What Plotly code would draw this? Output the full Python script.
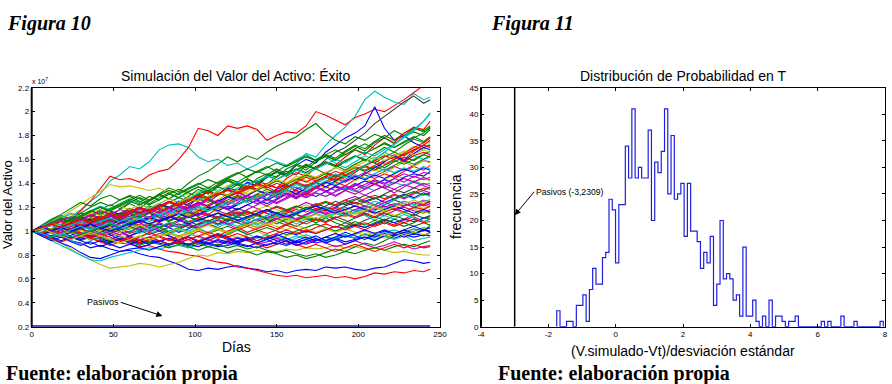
import plotly.graph_objects as go

# ---------------- data: left chart (values in units of 10^7) ----------------
days = list(range(0, 241, 6)) + [244]

path01 = [1.00,1.03,1.05,1.10,1.12,1.18,1.25,1.31,1.42,1.47,1.54,1.52,1.58,1.68,1.72,1.73,1.70,1.62,1.58,1.60,1.55,1.57,1.52,1.56,1.61,1.58,1.55,1.60,1.64,1.59,1.62,1.57,1.53,1.58,1.63,1.60,1.66,1.62,1.58,1.63,1.60,1.62]
path02 = [1.00,1.02,1.06,1.04,1.10,1.17,1.25,1.36,1.46,1.43,1.44,1.41,1.47,1.50,1.52,1.60,1.70,1.86,1.84,1.80,1.88,1.86,1.88,1.85,1.76,1.80,1.83,1.82,1.88,2.00,1.97,1.93,1.89,1.95,1.98,2.02,2.00,2.05,2.10,2.16,2.22,2.25]
path03 = [1.00,0.98,1.02,1.05,1.03,1.08,1.06,1.10,1.13,1.11,1.16,1.14,1.19,1.22,1.20,1.25,1.23,1.28,1.26,1.31,1.30,1.36,1.40,1.38,1.45,1.50,1.48,1.56,1.65,1.62,1.72,1.80,1.87,1.96,2.10,2.17,2.12,2.08,2.06,2.15,2.10,2.12]
path04 = [1.00,1.03,0.99,1.04,1.08,1.05,1.10,1.07,1.12,1.15,1.12,1.18,1.16,1.22,1.19,1.25,1.21,1.28,1.33,1.30,1.36,1.34,1.41,1.38,1.45,1.50,1.47,1.55,1.60,1.57,1.66,1.72,1.78,1.82,1.88,2.04,1.86,1.76,1.80,1.74,1.70,1.72]
path05 = [1.00,0.97,1.01,0.98,1.03,1.06,1.02,1.07,1.10,1.06,1.12,1.15,1.11,1.17,1.20,1.16,1.23,1.27,1.24,1.30,1.35,1.31,1.38,1.42,1.39,1.46,1.50,1.47,1.55,1.52,1.60,1.66,1.70,1.76,1.82,1.90,1.96,2.02,2.08,2.13,2.07,2.10]
path06 = [1.00,1.04,1.08,1.05,1.11,1.15,1.12,1.18,1.22,1.19,1.24,1.28,1.25,1.31,1.36,1.33,1.40,1.46,1.50,1.56,1.62,1.58,1.63,1.60,1.66,1.71,1.75,1.79,1.85,1.90,1.82,1.76,1.73,1.79,1.76,1.81,1.78,1.84,1.80,1.86,1.83,1.86]
path07 = [1.00,0.98,0.95,0.96,0.92,0.90,0.86,0.88,0.85,0.83,0.84,0.81,0.79,0.78,0.75,0.72,0.68,0.67,0.69,0.68,0.70,0.71,0.69,0.68,0.66,0.67,0.65,0.67,0.68,0.67,0.70,0.69,0.70,0.68,0.67,0.69,0.70,0.73,0.76,0.75,0.73,0.74]
path08 = [1.00,0.97,0.99,0.95,0.96,0.93,0.95,0.91,0.92,0.90,0.89,0.87,0.88,0.85,0.83,0.82,0.80,0.79,0.76,0.74,0.73,0.70,0.69,0.67,0.65,0.63,0.62,0.63,0.61,0.62,0.63,0.61,0.62,0.60,0.62,0.65,0.64,0.66,0.65,0.67,0.66,0.68]
path09 = [1.00,0.97,0.93,0.90,0.85,0.80,0.76,0.72,0.69,0.70,0.71,0.73,0.72,0.70,0.72,0.74,0.77,0.80,0.79,0.82,0.81,0.83,0.82,0.84,0.82,0.83,0.85,0.84,0.86,0.85,0.86,0.88,0.86,0.87,0.85,0.86,0.84,0.82,0.83,0.81,0.80,0.80]
path10 = [1.00,0.96,0.92,0.88,0.84,0.80,0.76,0.75,0.78,0.80,0.82,0.84,0.86,0.85,0.87,0.88,0.86,0.89,0.90,0.88,0.92,0.91,0.93,0.90,0.94,0.95,0.93,0.96,0.94,0.92,0.93,0.95,0.97,0.94,0.98,0.96,0.99,1.01,0.98,1.00,1.03,1.02]
path11 = [1.00,0.97,0.94,0.90,0.87,0.82,0.78,0.77,0.80,0.83,0.85,0.86,0.84,0.87,0.89,0.90,0.88,0.91,0.89,0.87,0.88,0.90,0.88,0.86,0.89,0.90,0.88,0.91,0.93,0.90,0.92,0.94,0.91,0.93,0.95,0.93,0.96,0.94,0.97,0.95,0.97,0.96]
path12 = [1.00,1.04,1.08,1.12,1.17,1.22,1.28,1.33,1.39,1.37,1.38,1.36,1.34,1.36,1.32,1.35,1.30,1.33,1.37,1.34,1.38,1.41,1.37,1.35,1.39,1.43,1.40,1.46,1.42,1.38,1.41,1.45,1.42,1.47,1.44,1.40,1.43,1.47,1.44,1.41,1.44,1.42]
path13 = [1.00,1.02,0.99,1.03,1.06,1.04,1.09,1.12,1.10,1.15,1.19,1.16,1.21,1.18,1.24,1.28,1.25,1.31,1.34,1.30,1.36,1.40,1.37,1.44,1.48,1.45,1.52,1.56,1.53,1.60,1.64,1.61,1.67,1.72,1.69,1.75,1.80,1.76,1.82,1.86,1.84,1.88]
path14 = [1.00,0.98,1.01,0.97,0.99,1.02,0.98,1.03,1.06,1.02,1.08,1.05,1.11,1.09,1.14,1.18,1.15,1.21,1.26,1.22,1.28,1.33,1.29,1.35,1.40,1.36,1.44,1.49,1.46,1.53,1.58,1.55,1.62,1.68,1.64,1.72,1.78,1.74,1.82,1.87,1.85,1.92]
path15 = [1.00,1.03,1.06,1.02,1.07,1.10,1.06,1.11,1.08,1.13,1.16,1.12,1.17,1.14,1.19,1.22,1.18,1.23,1.20,1.26,1.23,1.28,1.25,1.30,1.27,1.32,1.29,1.34,1.31,1.36,1.33,1.38,1.35,1.40,1.37,1.42,1.39,1.44,1.41,1.46,1.43,1.45]
path16 = [1.00,1.02,1.05,1.08,1.04,1.01,1.05,1.09,1.13,1.10,1.06,1.09,1.12,1.16,1.13,1.10,1.14,1.18,1.21,1.17,1.14,1.18,1.22,1.19,1.15,1.12,1.16,1.20,1.24,1.21,1.18,1.22,1.26,1.29,1.25,1.22,1.26,1.30,1.27,1.31,1.34,1.32]
path17 = [1.00,1.04,1.01,0.98,1.02,1.07,1.11,1.08,1.05,1.09,1.14,1.18,1.15,1.20,1.17,1.22,1.27,1.24,1.21,1.26,1.31,1.28,1.33,1.38,1.35,1.31,1.36,1.42,1.46,1.43,1.49,1.45,1.51,1.56,1.53,1.59,1.64,1.60,1.66,1.71,1.68,1.75]
path18 = [1.00,1.05,1.10,1.14,1.19,1.24,1.21,1.27,1.30,1.26,1.29,1.25,1.22,1.26,1.31,1.28,1.33,1.37,1.34,1.39,1.44,1.41,1.46,1.50,1.47,1.43,1.48,1.52,1.49,1.54,1.58,1.55,1.51,1.56,1.60,1.57,1.53,1.58,1.62,1.59,1.64,1.62]
path19 = [1.00,0.97,0.94,0.98,1.01,0.97,0.95,0.99,1.03,1.00,0.96,0.99,1.02,1.06,1.03,0.99,1.02,1.06,1.09,1.05,1.08,1.12,1.09,1.13,1.17,1.14,1.10,1.14,1.18,1.21,1.17,1.20,1.24,1.21,1.25,1.28,1.24,1.27,1.31,1.28,1.32,1.30]
path20 = [1.00,1.03,1.00,0.96,0.99,1.02,1.05,1.01,0.98,1.02,1.06,1.03,1.07,1.04,1.00,1.03,1.07,1.10,1.06,1.09,1.05,1.08,1.12,1.09,1.13,1.16,1.12,1.09,1.13,1.17,1.14,1.11,1.15,1.18,1.14,1.17,1.21,1.18,1.15,1.19,1.22,1.20]
path21 = [1.00,0.98,1.01,1.04,1.02,0.99,0.96,0.99,1.02,0.99,0.95,0.92,0.95,0.98,0.96,0.93,0.96,1.00,0.97,0.94,0.97,1.01,1.04,1.01,0.98,1.01,1.05,1.02,0.99,1.03,1.06,1.03,1.07,1.04,1.01,1.05,1.08,1.05,1.09,1.12,1.08,1.10]
path22 = [1.00,0.97,0.95,0.98,0.95,0.92,0.95,0.93,0.90,0.93,0.91,0.88,0.91,0.89,0.86,0.89,0.87,0.84,0.87,0.85,0.82,0.85,0.83,0.80,0.83,0.81,0.78,0.80,0.77,0.79,0.82,0.85,0.83,0.87,0.90,0.88,0.92,0.96,0.99,1.02,1.00,1.05]
path23 = [1.00,1.02,1.05,1.03,1.07,1.05,1.02,1.06,1.09,1.07,1.04,1.08,1.06,1.10,1.13,1.10,1.07,1.11,1.14,1.12,1.09,1.12,1.16,1.13,1.10,1.13,1.17,1.14,1.11,1.15,1.18,1.15,1.12,1.16,1.19,1.16,1.13,1.17,1.20,1.17,1.15,1.18]
path24 = [1.00,1.03,1.06,1.09,1.06,1.10,1.13,1.10,1.07,1.04,1.07,1.03,1.00,1.03,0.99,0.96,0.99,0.95,0.98,1.01,0.98,0.94,0.97,1.00,0.96,0.93,0.96,0.99,0.95,0.92,0.95,0.98,0.95,0.97,1.00,0.97,0.94,0.97,1.01,0.98,1.02,1.00]
path25 = [1.00,0.98,1.02,1.05,1.02,1.06,1.09,1.06,1.03,1.07,1.10,1.14,1.11,1.08,1.12,1.09,1.13,1.17,1.14,1.11,1.15,1.19,1.16,1.13,1.17,1.21,1.18,1.15,1.19,1.23,1.20,1.17,1.21,1.24,1.21,1.18,1.22,1.26,1.23,1.20,1.23,1.25]
path26 = [1.00,0.98,0.96,0.99,0.96,0.93,0.96,0.94,0.91,0.94,0.92,0.89,0.92,0.90,0.88,0.91,0.89,0.87,0.90,0.88,0.91,0.89,0.87,0.90,0.88,0.91,0.94,0.91,0.89,0.92,0.95,0.93,0.96,0.94,0.97,0.95,0.98,0.96,0.99,0.97,1.01,1.00]
path27 = [1.00,1.04,1.08,1.05,1.10,1.13,1.17,1.20,1.16,1.13,1.17,1.14,1.10,1.13,1.09,1.12,1.08,1.05,1.09,1.06,1.10,1.07,1.04,1.08,1.11,1.08,1.05,1.09,1.12,1.09,1.13,1.10,1.07,1.11,1.14,1.11,1.15,1.12,1.16,1.13,1.17,1.15]
path28 = [1.00,1.02,0.99,1.03,1.00,1.04,1.08,1.05,1.09,1.06,1.10,1.14,1.11,1.15,1.19,1.16,1.20,1.17,1.22,1.26,1.23,1.27,1.24,1.29,1.33,1.30,1.34,1.31,1.36,1.40,1.37,1.41,1.38,1.43,1.47,1.44,1.48,1.45,1.50,1.54,1.51,1.55]
path29 = [1.00,0.96,0.93,0.95,0.92,0.89,0.92,0.95,0.98,0.95,0.92,0.95,0.98,1.01,0.98,0.95,0.98,0.95,0.92,0.95,0.98,1.01,0.98,0.94,0.97,0.94,0.91,0.94,0.97,0.94,0.91,0.94,0.97,0.94,0.97,0.93,0.96,0.93,0.96,0.92,0.94,0.95]
path30 = [1.00,1.02,0.99,1.01,0.98,0.95,0.97,0.94,0.96,0.99,0.96,0.93,0.95,0.92,0.94,0.91,0.93,0.96,0.93,0.90,0.92,0.95,0.92,0.89,0.91,0.94,0.91,0.88,0.90,0.93,0.90,0.87,0.89,0.92,0.89,0.86,0.88,0.91,0.88,0.85,0.87,0.88]
path31 = [1.00,1.03,1.07,1.11,1.08,1.13,1.17,1.14,1.19,1.23,1.27,1.24,1.29,1.26,1.31,1.35,1.32,1.28,1.33,1.37,1.34,1.39,1.43,1.40,1.45,1.49,1.46,1.51,1.55,1.52,1.57,1.54,1.59,1.63,1.60,1.57,1.62,1.66,1.63,1.68,1.72,1.70]
path32 = [1.00,0.98,1.01,0.99,1.02,1.05,1.02,1.06,1.03,1.07,1.10,1.07,1.11,1.14,1.11,1.15,1.12,1.16,1.20,1.17,1.21,1.18,1.22,1.26,1.23,1.27,1.31,1.28,1.32,1.29,1.33,1.37,1.34,1.38,1.42,1.39,1.43,1.40,1.45,1.48,1.46,1.50]
path33 = [1.00,1.04,1.07,1.10,1.14,1.11,1.15,1.18,1.15,1.12,1.16,1.13,1.17,1.14,1.18,1.15,1.12,1.16,1.19,1.16,1.13,1.17,1.14,1.18,1.21,1.18,1.15,1.19,1.22,1.19,1.16,1.20,1.17,1.21,1.24,1.21,1.18,1.22,1.25,1.22,1.19,1.22]
path34 = [1.00,0.97,0.99,0.96,0.93,0.96,0.99,0.96,0.99,1.02,0.99,1.03,1.06,1.03,1.07,1.04,1.08,1.11,1.08,1.12,1.15,1.12,1.16,1.13,1.17,1.20,1.17,1.21,1.18,1.22,1.25,1.22,1.26,1.23,1.27,1.30,1.27,1.31,1.28,1.32,1.36,1.35]
path35 = [1.00,0.99,1.02,1.05,1.08,1.05,1.02,1.05,1.01,1.04,1.07,1.04,1.00,1.03,0.99,1.02,1.05,1.02,0.98,1.01,1.04,1.01,0.97,1.00,1.03,1.00,0.97,1.00,1.03,1.06,1.03,1.00,1.03,1.06,1.03,1.07,1.10,1.07,1.04,1.07,1.11,1.10]
path36 = [1.00,1.03,1.06,1.03,1.07,1.04,1.08,1.11,1.08,1.12,1.09,1.13,1.16,1.13,1.17,1.14,1.18,1.21,1.18,1.22,1.19,1.23,1.26,1.23,1.27,1.24,1.28,1.31,1.28,1.32,1.29,1.33,1.36,1.33,1.37,1.34,1.38,1.41,1.38,1.42,1.39,1.40]
path37 = [1.00,1.02,1.05,1.09,1.06,1.10,1.14,1.11,1.08,1.12,1.16,1.20,1.17,1.21,1.25,1.22,1.19,1.23,1.27,1.24,1.28,1.32,1.29,1.26,1.30,1.34,1.31,1.35,1.39,1.36,1.40,1.44,1.41,1.45,1.49,1.46,1.50,1.54,1.51,1.55,1.59,1.58]
path38 = [1.00,0.98,0.95,0.97,0.94,0.96,0.93,0.95,0.92,0.94,0.91,0.93,0.90,0.92,0.89,0.91,0.88,0.90,0.87,0.89,0.86,0.88,0.85,0.87,0.84,0.82,0.84,0.81,0.79,0.81,0.78,0.80,0.83,0.81,0.84,0.86,0.84,0.87,0.89,0.87,0.90,0.92]
path39 = [1.00,1.02,0.99,0.96,0.99,1.02,0.99,0.96,0.93,0.96,0.93,0.90,0.93,0.91,0.94,0.91,0.89,0.92,0.90,0.93,0.91,0.94,0.92,0.95,0.93,0.96,0.99,0.97,1.00,0.98,1.01,1.04,1.02,1.05,1.03,1.06,1.09,1.07,1.10,1.08,1.11,1.12]
path40 = [1.00,1.03,1.01,1.04,1.07,1.05,1.08,1.05,1.09,1.12,1.10,1.13,1.11,1.08,1.11,1.14,1.12,1.15,1.13,1.10,1.13,1.16,1.14,1.17,1.15,1.12,1.15,1.18,1.16,1.19,1.17,1.20,1.18,1.21,1.19,1.22,1.20,1.23,1.21,1.24,1.22,1.25]
path41 = [1.00,1.01,1.05,1.03,1.08,1.06,1.11,1.16,1.13,1.18,1.23,1.19,1.25,1.30,1.27,1.24,1.29,1.35,1.31,1.37,1.42,1.38,1.44,1.40,1.47,1.52,1.48,1.55,1.51,1.58,1.63,1.59,1.66,1.71,1.67,1.74,1.78,1.73,1.79,1.83,1.80,1.85]
path42 = [1.00,0.97,1.00,1.04,1.09,1.05,1.01,1.06,1.10,1.14,1.10,1.15,1.11,1.07,1.12,1.17,1.22,1.18,1.14,1.19,1.24,1.29,1.25,1.31,1.27,1.33,1.38,1.34,1.30,1.36,1.41,1.47,1.43,1.49,1.55,1.51,1.58,1.64,1.60,1.67,1.72,1.70]
path43 = [1.00,1.03,0.99,1.02,0.98,0.94,0.97,1.01,0.97,0.93,0.96,1.00,1.04,1.00,0.96,0.92,0.95,0.91,0.94,0.98,0.95,0.91,0.94,0.90,0.93,0.97,0.94,0.90,0.93,0.96,0.92,0.95,0.99,0.96,0.93,0.97,1.00,0.97,1.01,0.98,0.96,0.99]
path44 = [1.00,1.04,1.01,1.06,1.10,1.07,1.03,1.08,1.13,1.09,1.14,1.19,1.15,1.11,1.16,1.21,1.17,1.22,1.27,1.23,1.19,1.24,1.29,1.25,1.21,1.26,1.31,1.27,1.32,1.37,1.33,1.29,1.34,1.39,1.35,1.40,1.36,1.32,1.37,1.41,1.38,1.36]
path45 = [1.00,0.98,1.02,1.06,1.03,1.07,1.04,1.00,1.04,1.08,1.12,1.09,1.05,1.09,1.13,1.17,1.13,1.18,1.22,1.18,1.23,1.27,1.24,1.29,1.33,1.29,1.34,1.30,1.35,1.40,1.36,1.41,1.46,1.42,1.47,1.52,1.48,1.53,1.58,1.54,1.59,1.57]
path46 = [1.00,1.02,0.98,0.95,0.99,0.96,1.00,1.03,0.99,1.02,1.06,1.02,0.99,1.03,1.07,1.03,1.00,1.04,1.08,1.05,1.09,1.13,1.09,1.06,1.10,1.14,1.11,1.15,1.19,1.15,1.12,1.16,1.20,1.17,1.21,1.25,1.22,1.26,1.30,1.27,1.31,1.29]
path47 = [1.00,0.97,0.94,0.97,1.00,0.96,0.99,1.03,0.99,1.02,0.98,1.01,1.05,1.01,0.98,1.02,1.05,1.02,1.06,1.03,0.99,1.03,1.06,1.03,1.07,1.11,1.07,1.04,1.08,1.11,1.08,1.12,1.09,1.05,1.09,1.12,1.09,1.13,1.10,1.14,1.11,1.13]
path48 = [1.00,1.04,1.09,1.13,1.10,1.15,1.20,1.24,1.21,1.26,1.30,1.27,1.23,1.28,1.32,1.28,1.33,1.37,1.33,1.38,1.43,1.39,1.35,1.40,1.45,1.50,1.46,1.51,1.56,1.52,1.48,1.53,1.58,1.63,1.59,1.65,1.70,1.66,1.72,1.77,1.74,1.78]
path49 = [1.00,1.02,1.06,1.02,0.98,1.02,0.99,0.95,0.99,0.96,0.92,0.95,0.99,0.95,0.92,0.96,0.93,0.89,0.92,0.96,0.93,0.90,0.93,0.89,0.86,0.89,0.92,0.89,0.86,0.89,0.86,0.83,0.86,0.89,0.86,0.83,0.86,0.89,0.86,0.89,0.86,0.87]
path50 = [1.00,1.03,1.07,1.04,1.08,1.12,1.09,1.13,1.17,1.14,1.18,1.15,1.19,1.23,1.20,1.16,1.20,1.24,1.21,1.25,1.29,1.26,1.30,1.34,1.31,1.35,1.39,1.36,1.33,1.37,1.41,1.38,1.42,1.46,1.43,1.47,1.44,1.48,1.52,1.49,1.53,1.51]
path51 = [1.00,0.98,0.95,0.99,1.02,0.98,1.01,1.05,1.02,1.06,1.10,1.07,1.03,1.07,1.04,1.08,1.12,1.08,1.05,1.09,1.06,1.02,1.06,1.10,1.06,1.10,1.14,1.10,1.14,1.18,1.15,1.19,1.15,1.12,1.16,1.20,1.24,1.21,1.25,1.22,1.26,1.24]
path52 = [1.00,1.02,0.99,1.03,1.07,1.11,1.08,1.12,1.09,1.13,1.17,1.14,1.18,1.22,1.19,1.23,1.27,1.31,1.28,1.32,1.29,1.33,1.37,1.34,1.38,1.42,1.39,1.43,1.47,1.44,1.48,1.45,1.49,1.53,1.50,1.54,1.51,1.55,1.59,1.56,1.60,1.63]
path53 = [1.00,1.04,1.08,1.05,1.09,1.06,1.02,1.06,1.03,0.99,1.03,1.00,1.04,1.01,0.97,1.01,0.98,1.02,0.99,1.03,1.07,1.04,1.08,1.05,1.09,1.13,1.10,1.06,1.10,1.07,1.11,1.15,1.12,1.16,1.13,1.09,1.13,1.10,1.14,1.11,1.08,1.10]
path54 = [1.00,1.03,1.00,1.04,1.08,1.05,1.09,1.13,1.10,1.14,1.18,1.15,1.19,1.16,1.20,1.24,1.28,1.25,1.29,1.33,1.30,1.34,1.38,1.35,1.39,1.36,1.40,1.44,1.41,1.45,1.49,1.46,1.50,1.54,1.51,1.55,1.59,1.62,1.58,1.63,1.66,1.64]
path55 = [1.00,0.97,0.99,1.02,0.98,1.01,0.97,1.00,1.03,0.99,1.02,1.05,1.01,1.04,1.07,1.03,1.06,1.09,1.05,1.08,1.11,1.07,1.10,1.13,1.09,1.12,1.08,1.11,1.14,1.10,1.13,1.16,1.12,1.15,1.18,1.14,1.17,1.13,1.16,1.19,1.15,1.17]
path56 = [1.00,0.96,0.92,0.95,0.91,0.88,0.91,0.87,0.90,0.93,0.90,0.86,0.89,0.92,0.89,0.92,0.95,0.91,0.94,0.97,0.94,0.90,0.93,0.96,0.93,0.89,0.92,0.88,0.91,0.94,0.90,0.93,0.89,0.92,0.95,0.92,0.96,0.99,0.95,0.98,1.01,0.99]
path57 = [1.00,1.03,1.06,1.10,1.07,1.03,1.07,1.11,1.15,1.11,1.07,1.11,1.15,1.12,1.08,1.12,1.16,1.12,1.08,1.12,1.09,1.13,1.17,1.13,1.10,1.06,1.10,1.14,1.11,1.07,1.11,1.07,1.04,1.08,1.05,1.09,1.06,1.10,1.07,1.04,1.07,1.05]
path58 = [1.00,1.02,1.05,1.01,1.04,1.08,1.05,1.09,1.06,1.10,1.14,1.11,1.15,1.19,1.16,1.20,1.17,1.13,1.17,1.21,1.18,1.22,1.26,1.23,1.27,1.24,1.28,1.32,1.29,1.33,1.37,1.34,1.38,1.35,1.39,1.43,1.40,1.44,1.48,1.45,1.49,1.48]
path59 = [1.00,1.03,1.07,1.11,1.15,1.12,1.17,1.21,1.18,1.22,1.26,1.23,1.19,1.23,1.27,1.31,1.27,1.32,1.36,1.33,1.37,1.41,1.38,1.42,1.46,1.43,1.47,1.51,1.48,1.52,1.56,1.60,1.57,1.62,1.66,1.63,1.68,1.73,1.78,1.84,1.92,1.99]
path60 = [1.00,1.03,1.00,0.97,1.00,0.96,0.93,0.96,0.99,0.96,0.93,0.96,0.92,0.95,0.98,0.95,0.98,1.01,0.98,1.02,0.99,1.03,1.06,1.03,1.07,1.04,1.01,1.05,1.02,0.99,1.02,0.99,1.02,0.99,0.96,0.99,0.96,0.99,0.96,0.99,0.97,0.98]
path61 = [1.00,1.04,1.01,1.05,1.09,1.13,1.17,1.14,1.18,1.22,1.26,1.30,1.26,1.31,1.27,1.32,1.36,1.40,1.36,1.41,1.45,1.49,1.45,1.50,1.54,1.50,1.55,1.59,1.63,1.59,1.64,1.68,1.64,1.69,1.73,1.69,1.74,1.70,1.75,1.79,1.75,1.79]
path62 = [1.00,0.97,0.94,0.91,0.94,0.97,0.94,0.91,0.88,0.91,0.94,0.90,0.93,0.96,0.93,0.90,0.93,0.96,0.99,0.96,1.00,1.03,0.99,1.02,1.05,1.02,1.06,1.09,1.06,1.10,1.07,1.11,1.14,1.11,1.15,1.12,1.16,1.19,1.16,1.20,1.18,1.21]
path63 = [1.00,1.04,1.00,1.03,1.07,1.03,1.06,1.02,1.05,1.09,1.05,1.08,1.12,1.08,1.11,1.15,1.11,1.14,1.18,1.22,1.18,1.22,1.26,1.30,1.26,1.30,1.35,1.31,1.36,1.41,1.37,1.42,1.47,1.43,1.48,1.53,1.58,1.63,1.59,1.65,1.70,1.68]
path64 = [1.00,1.02,0.99,0.96,0.99,1.02,1.05,1.02,0.98,1.01,1.04,1.01,0.97,1.00,1.03,1.06,1.03,1.06,1.09,1.06,1.10,1.07,1.11,1.14,1.11,1.15,1.12,1.16,1.20,1.17,1.21,1.25,1.22,1.26,1.30,1.27,1.31,1.35,1.32,1.36,1.34,1.37]
path65 = [1.00,0.97,1.00,0.97,0.94,0.97,0.94,0.97,1.00,0.97,1.00,1.03,1.00,1.03,1.06,1.03,1.06,1.03,1.06,1.10,1.06,1.09,1.06,1.10,1.13,1.10,1.13,1.10,1.14,1.17,1.14,1.17,1.14,1.18,1.21,1.18,1.21,1.18,1.21,1.24,1.21,1.23]
path66 = [1.00,1.03,1.06,1.03,1.00,1.03,1.07,1.10,1.07,1.11,1.15,1.12,1.16,1.20,1.24,1.21,1.25,1.29,1.26,1.22,1.26,1.30,1.27,1.31,1.35,1.32,1.36,1.40,1.37,1.41,1.45,1.42,1.46,1.50,1.54,1.51,1.55,1.59,1.56,1.60,1.64,1.67]
path67 = [1.00,0.98,1.01,0.98,0.95,0.98,1.01,0.98,1.01,1.04,1.01,0.98,1.01,1.04,1.07,1.04,1.07,1.10,1.07,1.10,1.13,1.10,1.07,1.10,1.13,1.16,1.13,1.16,1.19,1.16,1.19,1.16,1.13,1.16,1.19,1.22,1.19,1.22,1.25,1.22,1.25,1.26]
path68 = [1.00,1.02,1.05,1.08,1.05,1.09,1.13,1.10,1.14,1.11,1.15,1.19,1.16,1.20,1.24,1.21,1.25,1.29,1.33,1.30,1.34,1.31,1.35,1.39,1.36,1.40,1.37,1.41,1.45,1.42,1.46,1.50,1.47,1.51,1.55,1.59,1.63,1.60,1.65,1.70,1.74,1.78]
path69 = [1.00,0.98,0.95,0.92,0.95,0.92,0.89,0.92,0.89,0.86,0.89,0.92,0.89,0.92,0.89,0.92,0.95,0.92,0.89,0.92,0.89,0.92,0.95,0.92,0.95,0.92,0.89,0.92,0.95,0.92,0.95,0.98,0.95,0.98,1.01,0.98,1.01,0.98,1.01,1.04,1.01,1.03]
path70 = [1.00,1.03,1.07,1.04,1.08,1.12,1.16,1.13,1.17,1.21,1.18,1.22,1.19,1.23,1.27,1.24,1.28,1.25,1.29,1.33,1.30,1.34,1.31,1.35,1.39,1.43,1.40,1.44,1.48,1.45,1.49,1.53,1.50,1.54,1.58,1.62,1.59,1.63,1.67,1.64,1.68,1.66]
path71 = [1.00,0.97,1.00,1.03,1.00,0.97,1.00,1.03,1.06,1.03,1.06,1.09,1.06,1.03,1.06,1.09,1.12,1.09,1.12,1.15,1.12,1.15,1.12,1.15,1.18,1.15,1.18,1.21,1.18,1.21,1.24,1.21,1.24,1.27,1.24,1.27,1.30,1.27,1.30,1.33,1.30,1.32]
path72 = [1.00,1.03,1.00,1.04,1.07,1.04,1.08,1.05,1.09,1.13,1.10,1.14,1.18,1.15,1.19,1.16,1.20,1.24,1.21,1.25,1.22,1.26,1.30,1.27,1.31,1.28,1.32,1.29,1.33,1.37,1.34,1.30,1.34,1.31,1.35,1.39,1.36,1.40,1.44,1.41,1.45,1.43]
path73 = [1.00,0.98,1.01,0.98,1.01,0.98,0.95,0.98,0.95,0.92,0.95,0.92,0.95,0.92,0.89,0.92,0.95,0.92,0.95,0.98,0.95,0.98,0.95,0.92,0.95,0.98,1.01,0.98,1.01,0.98,1.01,1.04,1.01,1.04,1.07,1.04,1.07,1.04,1.07,1.10,1.07,1.08]
path74 = [1.00,1.02,1.05,1.02,1.05,1.08,1.05,1.08,1.11,1.08,1.11,1.14,1.11,1.14,1.17,1.14,1.17,1.20,1.17,1.20,1.23,1.27,1.24,1.28,1.32,1.29,1.33,1.37,1.34,1.38,1.42,1.39,1.43,1.47,1.44,1.48,1.52,1.49,1.53,1.50,1.54,1.52]
path75 = [1.00,1.03,1.07,1.11,1.08,1.12,1.16,1.20,1.17,1.21,1.25,1.22,1.26,1.30,1.34,1.31,1.35,1.39,1.43,1.40,1.44,1.48,1.52,1.49,1.53,1.57,1.54,1.58,1.62,1.59,1.63,1.60,1.64,1.68,1.65,1.69,1.73,1.70,1.74,1.78,1.82,1.87]
path76 = [1.00,0.97,1.00,1.03,1.00,1.03,1.06,1.03,1.00,1.03,1.06,1.09,1.06,1.09,1.12,1.09,1.06,1.09,1.12,1.15,1.12,1.09,1.12,1.15,1.18,1.15,1.12,1.15,1.18,1.21,1.18,1.15,1.18,1.21,1.18,1.15,1.18,1.21,1.18,1.15,1.18,1.16]
path77 = [1.00,1.02,0.99,0.96,0.93,0.96,0.99,0.96,0.93,0.90,0.93,0.96,0.93,0.96,0.99,1.02,0.99,1.02,1.05,1.02,0.99,1.02,1.05,1.08,1.05,1.08,1.11,1.08,1.11,1.14,1.11,1.14,1.17,1.14,1.17,1.20,1.17,1.20,1.23,1.26,1.23,1.27]
path78 = [1.00,1.03,1.06,1.09,1.12,1.09,1.13,1.17,1.14,1.18,1.15,1.19,1.16,1.12,1.16,1.20,1.17,1.13,1.17,1.21,1.18,1.14,1.18,1.22,1.26,1.23,1.27,1.31,1.28,1.32,1.29,1.33,1.37,1.34,1.30,1.34,1.38,1.35,1.39,1.36,1.40,1.38]
path79 = [1.00,1.03,1.06,1.03,1.07,1.10,1.07,1.11,1.15,1.12,1.16,1.20,1.17,1.21,1.25,1.22,1.26,1.30,1.27,1.31,1.35,1.32,1.36,1.40,1.37,1.33,1.37,1.41,1.38,1.42,1.46,1.43,1.47,1.51,1.55,1.59,1.56,1.60,1.64,1.68,1.72,1.76]
path80 = [1.00,0.98,0.95,0.98,1.01,1.04,1.01,1.04,1.07,1.04,1.08,1.11,1.08,1.12,1.15,1.19,1.16,1.20,1.17,1.21,1.25,1.22,1.26,1.30,1.27,1.31,1.35,1.39,1.36,1.40,1.44,1.48,1.45,1.50,1.55,1.60,1.66,1.72,1.79,1.85,1.92,1.98]

paths = [path01, path02, path03, path04, path05, path06, path07, path08, path09, path10,
         path11, path12, path13, path14, path15, path16, path17, path18, path19, path20,
         path21, path22, path23, path24, path25, path26, path27, path28, path29, path30,
         path31, path32, path33, path34, path35, path36, path37, path38, path39, path40,
         path41, path42, path43, path44, path45, path46, path47, path48, path49, path50,
         path51, path52, path53, path54, path55, path56, path57, path58, path59, path60,
         path61, path62, path63, path64, path65, path66, path67, path68, path69, path70,
         path71, path72, path73, path74, path75, path76, path77, path78, path79, path80]

pasivos_level = 0.2          # liabilities, in units of 10^7
pasivos_days = [0, 244]

left_xticks = [0, 50, 100, 150, 200, 250]
left_yticks = [0.2, 0.4, 0.6, 0.8, 1.0, 1.2, 1.4, 1.6, 1.8, 2.0, 2.2]
left_yticklabels = ["0.2", "0.4", "0.6", "0.8", "1", "1.2", "1.4", "1.6", "1.8", "2", "2.2"]

# ---------------- data: right chart ----------------
hist_counts = [3,0,0,1,1,0,4,4,6,1,7,11,8,8,13,14,24,22,12,23,
               23,34,28,41,28,30,28,28,37,20,31,29,33,41,25,36,24,25,27,17,
               27,18,18,16,11,14,12,17,4,8,20,9,10,9,5,6,2,15,2,2,
               5,1,0,2,0,5,0,2,2,1,0,1,1,2,0,0,0,0,0,0,
               0,1,0,1,0,0,0,2,0,0,0,1,0,0,0,0,0,0,0,1]
hist_min = -1.75
hist_max = 7.95
pasivos_z = -3.0
right_xticks = [-4, -2, 0, 2, 4, 6, 8]
right_xticklabels = ["-4", "-2", "0", "2", "4", "6", "8"]
right_yticks = [0, 5, 10, 15, 20, 25, 30, 35, 40, 45]

# ---------------- styles ----------------
MATLAB = {"b": "#0000ff", "g": "#008000", "r": "#ff0000", "c": "#00bfbf",
          "m": "#bf00bf", "y": "#bfbf00", "k": "#404040"}
path_styles = ["c", "r", "c", "b", "k", "g", "b", "r", "y", "c",
               "b", "y", "g", "r", "m", "m", "y", "g", "b", "c",
               "r", "g", "m", "y", "k", "b", "g", "r", "c", "m",
               "g", "b", "y", "r", "g", "c", "m", "g", "b", "r",
               "g", "r", "b", "m", "y", "c", "k", "g", "r", "b",
               "m", "g", "c", "r", "y", "b", "g", "m", "c", "y",
               "g", "r", "b", "k", "m", "g", "c", "r", "b", "y",
               "g", "m", "r", "c", "g", "b", "y", "m", "r", "c"]

W, H = 892, 384
FONT = "Liberation Sans"
SERIF = "Liberation Serif"

def px(x):
    return x / W

def py(y):
    return (H - y) / H

fig = go.Figure()

for vals, st in zip(paths, path_styles):
    fig.add_trace(go.Scatter(x=days, y=vals, mode="lines",
                             line=dict(color=MATLAB[st], width=1.1),
                             xaxis="x", yaxis="y", hoverinfo="skip"))

fig.add_trace(go.Scatter(x=pasivos_days, y=[pasivos_level] * len(pasivos_days), mode="lines",
                         line=dict(color="#1c1c8c", width=3), xaxis="x", yaxis="y"))

# histogram outline
nb = len(hist_counts)
w = (hist_max - hist_min) / nb
edges = [hist_min + i * w for i in range(nb + 1)]
hx = [edges[0]] + edges[:nb] + [edges[nb]]
hy = [0] + hist_counts + [0]
fig.add_trace(go.Scatter(x=hx, y=hy, mode="lines", line=dict(color="#2020e0", width=1.2, shape="hv"),
                         xaxis="x2", yaxis="y2"))
fig.add_trace(go.Scatter(x=[pasivos_z, pasivos_z], y=[0, 45], mode="lines",
                         line=dict(color="black", width=1.5), xaxis="x2", yaxis="y2"))

ydom = [py(326.7), py(87.7)]
axis_common = dict(showgrid=False, zeroline=False, showline=True, linecolor="black", linewidth=1,
                   mirror="ticks", ticks="inside", ticklen=3, tickcolor="black",
                   tickfont=dict(family=FONT, size=8, color="black"), automargin=False)

fig.update_layout(
    width=W, height=H, margin=dict(l=0, r=0, t=0, b=0),
    paper_bgcolor="white", plot_bgcolor="white", showlegend=False,
    xaxis=dict(domain=[px(31.7), px(440)], range=[0, 250], tickvals=left_xticks, anchor="y", **axis_common),
    yaxis=dict(domain=ydom, range=[0.2, 2.2], tickvals=left_yticks, ticktext=left_yticklabels,
               anchor="x", **axis_common),
    xaxis2=dict(domain=[px(481), px(885)], range=[-4, 8], tickvals=right_xticks,
                ticktext=right_xticklabels, anchor="y2", **axis_common),
    yaxis2=dict(domain=ydom, range=[0, 45], tickvals=right_yticks, anchor="x2", **axis_common),
)

# heavier left spines, as in the reference
fig.update_layout(shapes=[
    dict(type="line", xref="x domain", yref="y domain", x0=0, x1=0, y0=0, y1=1,
         line=dict(color="black", width=2)),
    dict(type="line", xref="x2 domain", yref="y2 domain", x0=0, x1=0, y0=0, y1=1,
         line=dict(color="black", width=2)),
])

ann = []
def text(x, y, s, size, family=FONT, angle=0, xanchor="center", yanchor="middle"):
    ann.append(dict(x=px(x), y=py(y), xref="paper", yref="paper", text=s, showarrow=False,
                    font=dict(family=family, size=size, color="black"), textangle=angle,
                    xanchor=xanchor, yanchor=yanchor))

text(5, 23, "<b><i>Figura 10</i></b>", 20, SERIF, xanchor="left")
text(489, 23, "<b><i>Figura 11</i></b>", 20, SERIF, xanchor="left")
text(4, 373, "<b>Fuente: elaboración propia</b>", 20, SERIF, xanchor="left")
text(496, 373, "<b>Fuente: elaboración propia</b>", 20, SERIF, xanchor="left")
text(236, 76, "Simulación del Valor del Activo: Éxito", 14)
text(683, 76, "Distribución de Probabilidad en T", 14)
text(30, 81, "x 10<sup>7</sup>", 7, xanchor="left")
text(7, 205, "Valor del Activo", 13, angle=-90)
text(236, 347, "Días", 14)
text(456, 207, "frecuencia", 14, angle=-90)
text(683, 351, "(V.simulado-Vt)/desviación estándar", 14)

# Pasivos labels with arrows (text box sits at the arrow tail)
ann.append(dict(x=80, y=0.29, ax=54.5, ay=0.404, xref="x", yref="y", axref="x", ayref="y",
                text="Pasivos", xanchor="right", yanchor="middle",
                font=dict(family=FONT, size=9, color="black"),
                showarrow=True, arrowhead=2, arrowsize=1.2, arrowwidth=1, arrowcolor="black"))
ann.append(dict(x=-3.0, y=21.0, ax=-2.42, ay=25.4, xref="x2", yref="y2", axref="x2", ayref="y2",
                text="Pasivos (-3,2309)", xanchor="left", yanchor="middle",
                font=dict(family=FONT, size=8.6, color="black"),
                showarrow=True, arrowhead=2, arrowsize=1.2, arrowwidth=1, arrowcolor="black"))

fig.update_layout(annotations=ann)
fig.write_html("out.html")
